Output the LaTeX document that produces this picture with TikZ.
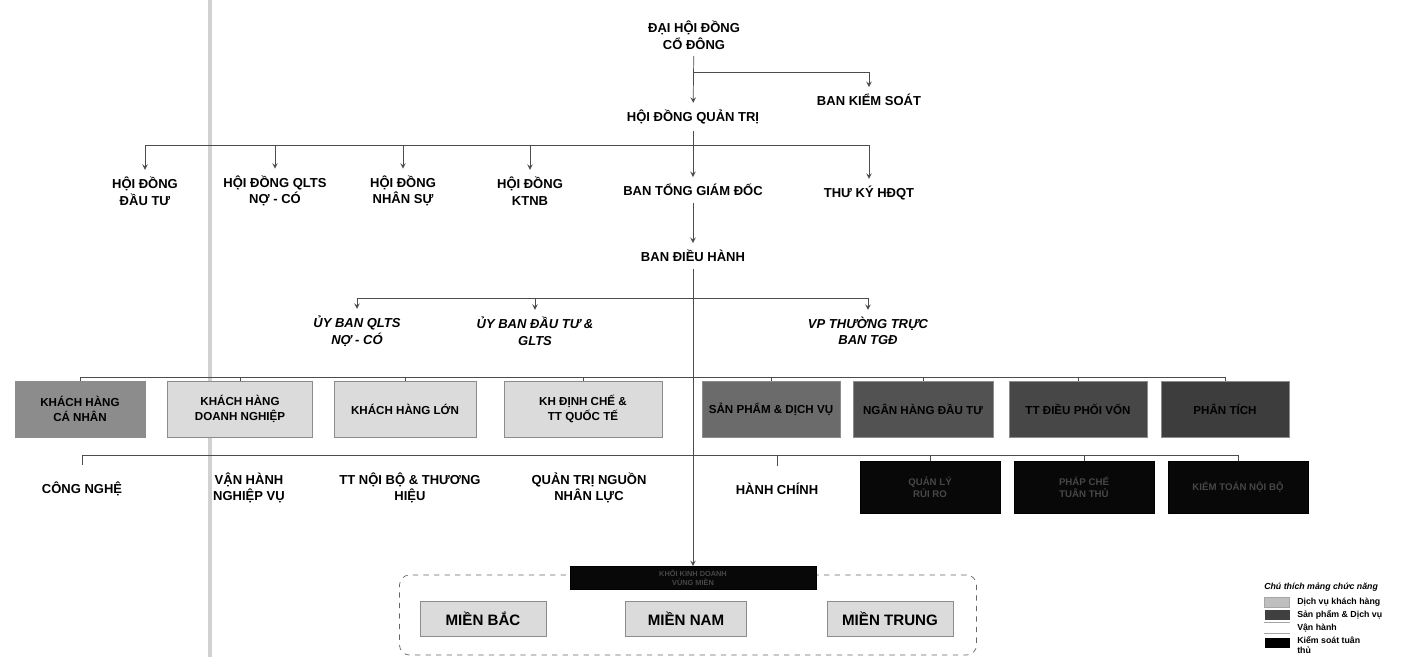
\documentclass[tikz,border=0pt]{standalone}
\usepackage{fontspec}
\setmainfont{Liberation Sans}
\usetikzlibrary{positioning}

\begin{document}
\begin{tikzpicture}
    [x=0.2mm, y=-0.2mm,
    every text node part/.style={align=center},
    tsty/.style={font=\fontsize{7.4}{9.4}\selectfont\bfseries, inner sep=1pt, outer sep=3pt},
    isty/.style={tsty, font=\fontsize{7.4}{9.4}\selectfont\bfseries\itshape},
    bsty/.style={draw=black!45, font=\fontsize{6.6}{8.4}\selectfont\bfseries, inner sep=1pt, minimum height=11.2mm},
    lsty/.style={bsty, fill=black!14},
    msty/.style={bsty, fill=black!45},
    dsty/.style={bsty, fill=black!68},
    ksty/.style={bsty, draw=black, fill=black!97, text=black!72, font=\fontsize{5.5}{7}\selectfont\bfseries, minimum height=10.4mm, minimum width=28mm},
    rsty/.style={lsty, font=\fontsize{8.6}{9}\selectfont\bfseries, minimum height=7mm},
    gsty/.style={font=\fontsize{5}{6.2}\selectfont\bfseries, inner sep=0.5pt, anchor=west, every text node part/.style={align=left}},
    wsty/.style={minimum width=5mm, minimum height=2mm, inner sep=0pt},
    esty/.style={thin, black!70},
    asty/.style={-{stealth}, thin, black!70}]
    \useasboundingbox (0,0) rectangle (1408,657);
    % scan line
    \draw[black!18, line width=0.9mm] (210,0) -- (210,657);
    % top
    \node[tsty] (dhdcd) at (694,35) {ĐẠI HỘI ĐỒNG\\CỔ ĐÔNG};
    \node[tsty] (bks) at (869,100) {BAN KIỂM SOÁT};
    \node[tsty] (hdqt) at (693,117) {HỘI ĐỒNG QUẢN TRỊ};
    \coordinate (busa) at (693,72);
    \draw[asty] (dhdcd) -- (hdqt);
    \draw[asty] (busa) -| (bks);
    % hoi dong
    \node[tsty] (hddt) at (145,191) {HỘI ĐỒNG\\ĐẦU TƯ};
    \node[tsty] (hdql) at (275,191) {HỘI ĐỒNG QLTS\\NỢ - CÓ};
    \node[tsty] (hdns) at (403,191) {HỘI ĐỒNG\\NHÂN SỰ};
    \node[tsty] (hdkt) at (530,191) {HỘI ĐỒNG\\KTNB};
    \node[tsty] (btgd) at (693,190) {BAN TỔNG GIÁM ĐỐC};
    \node[tsty] (tk) at (869,193) {THƯ KÝ HĐQT};
    \coordinate (busb) at (693,145);
    \draw[esty] (hdqt) -- (busb);
    \draw[esty] (hddt |- busb) -- (tk |- busb);
    \foreach \n in {hddt,hdql,hdns,hdkt,btgd,tk}
        \draw[asty] (\n |- busb) -- (\n);
    % ban dieu hanh
    \node[tsty] (bdh) at (693,256) {BAN ĐIỀU HÀNH};
    \draw[asty] (btgd) -- (bdh);
    \node[isty] (ubql) at (357,331) {ỦY BAN QLTS\\NỢ - CÓ};
    \node[isty] (ubdt) at (535,331) {ỦY BAN ĐẦU TƯ \&\\GLTS};
    \node[isty] (vptt) at (868,331) {VP THƯỜNG TRỰC\\BAN TGĐ};
    \coordinate (busc) at (693,298);
    \draw[esty] (ubql |- busc) -- (vptt |- busc);
    \foreach \n in {ubql,ubdt,vptt}
        \draw[asty] (\n |- busc) -- (\n);
    % khoi kinh doanh
    \node[msty, minimum width=26mm] (khcn) at (80,409) {KHÁCH HÀNG\\CÁ NHÂN};
    \node[lsty, minimum width=29mm] (khdn) at (240,409) {KHÁCH HÀNG\\DOANH NGHIỆP};
    \node[lsty, minimum width=28.4mm] (khl) at (405,409) {KHÁCH HÀNG LỚN};
    \node[lsty, minimum width=31.6mm] (khqt) at (583,409) {KH ĐỊNH CHẾ \&\\TT QUỐC TẾ};
    \node[dsty, fill=black!58, minimum width=27.6mm] (spdv) at (771,409) {SẢN PHẨM \& DỊCH VỤ};
    \node[dsty, minimum width=28mm] (nhdt) at (923,409) {NGÂN HÀNG ĐẦU TƯ};
    \node[dsty, fill=black!72, minimum width=27.6mm] (ttv) at (1078,409) {TT ĐIỀU PHỐI VỐN};
    \node[dsty, fill=black!76, minimum width=25.6mm] (ptich) at (1225,409) {PHÂN TÍCH};
    \coordinate (busd) at (693,377);
    \draw[esty] (khcn |- busd) -- (ptich |- busd);
    \foreach \n in {khcn,khdn,khl,khqt,spdv,nhdt,ttv,ptich}
        \draw[esty] (\n |- busd) -- (\n);
    % khoi ho tro
    \node[tsty] (cn) at (82,489) {CÔNG NGHỆ};
    \node[tsty] (vhnv) at (249,488) {VẬN HÀNH\\NGHIỆP VỤ};
    \node[tsty] (ttnb) at (410,488) {TT NỘI BỘ \& THƯƠNG\\HIỆU};
    \node[tsty] (qtnl) at (589,488) {QUẢN TRỊ NGUỒN\\NHÂN LỰC};
    \node[tsty] (hc) at (777,489) {HÀNH CHÍNH};
    \node[ksty] (ks1) at (930,487) {QUẢN LÝ\\RỦI RO};
    \node[ksty] (ks2) at (1084,487) {PHÁP CHẾ\\TUÂN THỦ};
    \node[ksty] (ks3) at (1238,487) {KIỂM TOÁN NỘI BỘ};
    \coordinate (buse) at (693,455);
    \draw[esty] (cn |- buse) -- (ks3 |- buse);
    \foreach \n in {cn,vhnv,ttnb,qtnl,hc}
        \draw[esty, shorten >=2mm] (\n |- buse) -- (\n);
    \foreach \n in {ks1,ks2,ks3}
        \draw[esty] (\n |- buse) -- (\n);
    % vung mien
    \node[draw=black!60, dashed, rounded corners=2mm, minimum width=115.4mm, minimum height=16mm] (vung) at (688,615) {};
    \node[ksty, minimum width=49.2mm, minimum height=4.6mm, font=\fontsize{4.2}{5}\selectfont\bfseries] (kvm) at (693,578) {KHỐI KINH DOANH\\VÙNG MIỀN};
    \draw[asty] (bdh) -- (kvm);
    \node[rsty, minimum width=25.2mm] (mb) at (483,619) {MIỀN BẮC};
    \node[rsty, minimum width=24.2mm] (mn) at (686,619) {MIỀN NAM};
    \node[rsty, minimum width=25.2mm] (mt) at (890,619) {MIỀN TRUNG};
    % chu thich
    \node[gsty, font=\fontsize{5}{6}\selectfont\bfseries\itshape] (cth) at (1263,587) {Chú thích mảng chức năng};
    \node[wsty, fill=black!25, draw=black!35] (w1) at (1277,602) {};
    \node[gsty] (g1) at (1296,602) {Dịch vụ khách hàng};
    \node[wsty, fill=black!75] (w2) at (1277,615) {};
    \node[gsty] (g2) at (1296,615) {Sản phẩm \& Dịch vụ};
    \node[wsty] (w3) at (1277,628) {};
    \draw[black!35] (w3.north west) -- (w3.north east) (w3.south west) -- (w3.south east);
    \node[gsty] (g3) at (1296,628) {Vận hành};
    \node[wsty, fill=black] (w4) at (1277,643) {};
    \node[gsty] (g4) at (1296,645) {Kiểm soát tuân\\thủ};
\end{tikzpicture}
\end{document}
